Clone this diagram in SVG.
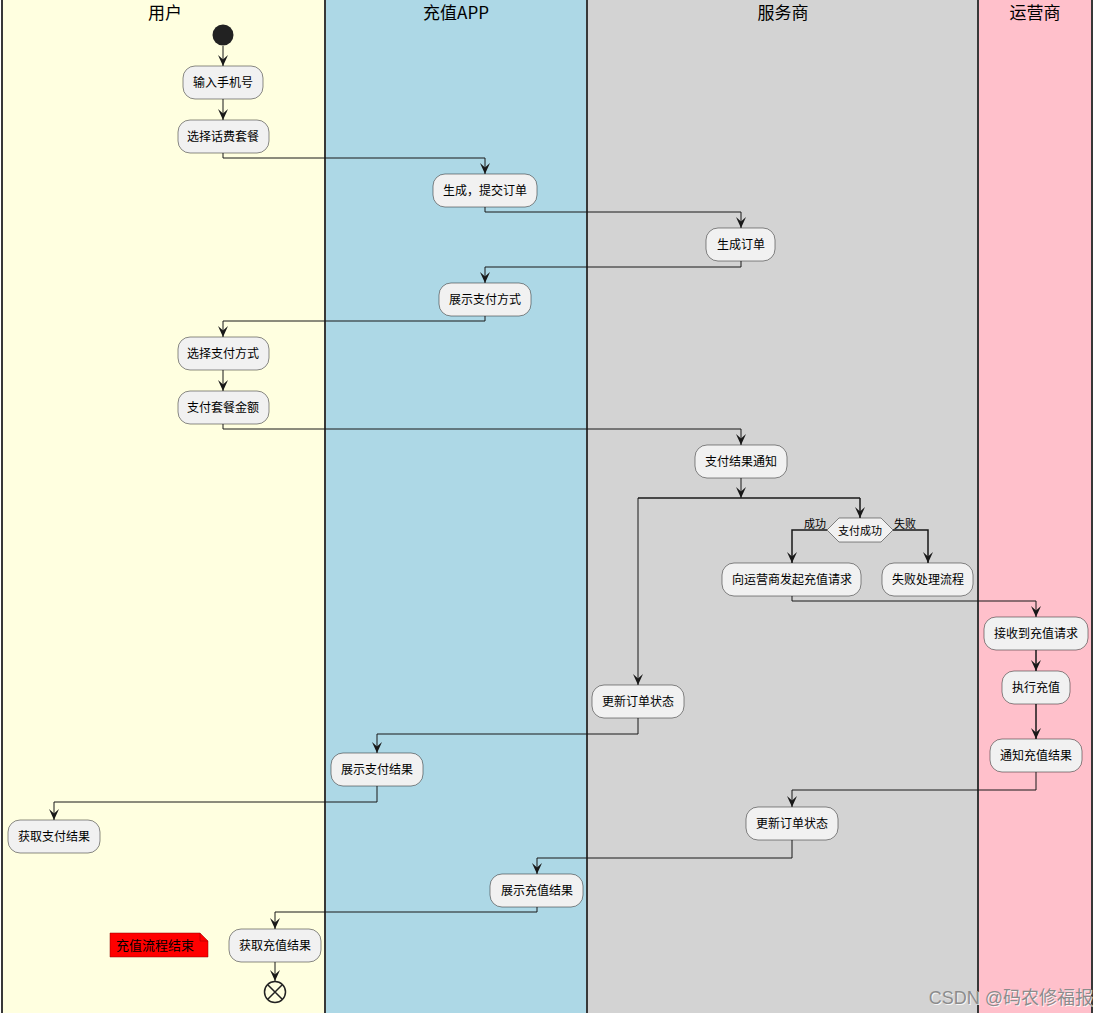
<svg xmlns="http://www.w3.org/2000/svg" width="1108" height="1017" viewBox="0 0 1108 1017">
<defs>
<style>
.lane{stroke:none}
.sep{stroke:#383838;stroke-width:2}
.hd{font-family:"Noto Sans CJK SC","Noto Sans",sans-serif;font-size:17px;fill:#000;text-anchor:middle}
.nd rect{fill:#F1F1F1;stroke:#181818;stroke-width:0.5}
.nd text{font-family:"Noto Sans CJK SC","Noto Sans",sans-serif;font-size:12px;fill:#000;text-anchor:middle}
.lbl{font-family:"Noto Sans CJK SC","Noto Sans",sans-serif;font-size:11px;fill:#000;text-anchor:middle}
.cn path,.cn line,.cn polyline{fill:none;stroke:#181818;stroke-width:1}
.wm{font-family:"Liberation Sans","Noto Sans CJK SC",sans-serif;font-size:18px}
</style>
<marker id="ah" markerWidth="11" markerHeight="10" refX="11" refY="5" orient="auto" markerUnits="userSpaceOnUse" viewBox="0 0 11 10">
<path d="M0,0 L11,5 L0,10 L4.5,5 Z" fill="#181818"/>
</marker>
</defs>
<rect width="1108" height="1017" fill="#FFFFFF"/>
<g id="lanes">
<rect class="lane" x="2" y="0" width="323" height="1013" fill="#FFFFE0"/>
<rect class="lane" x="325" y="0" width="262" height="1013" fill="#ADD8E6"/>
<rect class="lane" x="587" y="0" width="391" height="1013" fill="#D3D3D3"/>
<rect class="lane" x="978" y="0" width="114" height="1013" fill="#FFC0CB"/>
<line class="sep" x1="2" y1="0" x2="2" y2="1013"/>
<line class="sep" x1="325" y1="0" x2="325" y2="1013"/>
<line class="sep" x1="587" y1="0" x2="587" y2="1013"/>
<line class="sep" x1="978" y1="0" x2="978" y2="1013"/>
<line class="sep" x1="1092" y1="0" x2="1092" y2="1013"/>
<text class="hd" x="165" y="19">用户</text>
<text class="hd" x="456" y="19">充值APP</text>
<text class="hd" x="783" y="19">服务商</text>
<text class="hd" x="1035" y="19">运营商</text>
</g>
<g id="connectors" class="cn">
<line x1="223" y1="46" x2="223" y2="66" marker-end="url(#ah)"/>
<line x1="223" y1="99" x2="223" y2="120" marker-end="url(#ah)"/>
<polyline points="223,153 223,158 485,158 485,174" marker-end="url(#ah)"/>
<polyline points="485,207 485,212 741,212 741,228" marker-end="url(#ah)"/>
<polyline points="741,261 741,267 485,267 485,283" marker-end="url(#ah)"/>
<polyline points="485,316 485,321 223,321 223,337" marker-end="url(#ah)"/>
<line x1="223" y1="370" x2="223" y2="391" marker-end="url(#ah)"/>
<polyline points="223,424 223,429 741,429 741,445" marker-end="url(#ah)"/>
<line x1="741" y1="478" x2="741" y2="498" marker-end="url(#ah)"/>
<line x1="638" y1="498" x2="860" y2="498" style="stroke-width:1.5"/>
<polyline points="860,498 860,518" marker-end="url(#ah)" style="stroke-width:1.5"/>
<polyline points="638,498 638,685" marker-end="url(#ah)"/>
<polyline points="827,530 792,530 792,563" marker-end="url(#ah)" style="stroke-width:1.5"/>
<polyline points="893,530 928,530 928,563" marker-end="url(#ah)" style="stroke-width:1.5"/>
<polyline points="792,596 792,601 1036,601 1036,617" marker-end="url(#ah)"/>
<line x1="1036" y1="650" x2="1036" y2="671" marker-end="url(#ah)" style="stroke-width:1.5"/>
<line x1="1036" y1="704" x2="1036" y2="739" marker-end="url(#ah)" style="stroke-width:1.5"/>
<polyline points="638,718 638,734 377,734 377,753" marker-end="url(#ah)"/>
<polyline points="377,786 377,802 54,802 54,820" marker-end="url(#ah)"/>
<polyline points="1036,772 1036,790 792,790 792,807" marker-end="url(#ah)"/>
<polyline points="792,840 792,858 537,858 537,874" marker-end="url(#ah)"/>
<polyline points="537,907 537,912 275,912 275,929" marker-end="url(#ah)"/>
<line x1="275" y1="962" x2="275" y2="981" marker-end="url(#ah)"/>
</g>
<g id="start"><circle cx="223" cy="35" r="10.5" fill="#222222"/></g>
<g id="n1" class="nd"><rect x="183" y="66" width="80" height="33" rx="12"/><text x="223" y="87">输入手机号</text></g>
<g id="n2" class="nd"><rect x="178" y="120" width="91" height="33" rx="12"/><text x="223" y="141">选择话费套餐</text></g>
<g id="n3" class="nd"><rect x="433" y="174" width="104" height="33" rx="12"/><text x="485" y="195">生成，提交订单</text></g>
<g id="n4" class="nd"><rect x="706" y="228" width="69" height="33" rx="12"/><text x="741" y="249">生成订单</text></g>
<g id="n5" class="nd"><rect x="439" y="283" width="92" height="33" rx="12"/><text x="485" y="304">展示支付方式</text></g>
<g id="n6" class="nd"><rect x="178" y="337" width="91" height="33" rx="12"/><text x="223" y="358">选择支付方式</text></g>
<g id="n7" class="nd"><rect x="178" y="391" width="91" height="33" rx="12"/><text x="223" y="412">支付套餐金额</text></g>
<g id="n8" class="nd"><rect x="695" y="445" width="92" height="33" rx="12"/><text x="741" y="466">支付结果通知</text></g>
<g id="d1"><polygon points="827,530 839,518 881,518 893,530 881,542 839,542" fill="#F1F1F1" stroke="#181818" stroke-width="0.5"/><text class="lbl" x="860" y="534.5">支付成功</text><text class="lbl" x="815" y="528">成功</text><text class="lbl" x="905" y="528">失败</text></g>
<g id="n9" class="nd"><rect x="722" y="563" width="139" height="33" rx="12"/><text x="792" y="584">向运营商发起充值请求</text></g>
<g id="n10" class="nd"><rect x="882" y="563" width="91" height="33" rx="12"/><text x="928" y="584">失败处理流程</text></g>
<g id="n11" class="nd"><rect x="984" y="617" width="104" height="33" rx="12"/><text x="1036" y="638">接收到充值请求</text></g>
<g id="n12" class="nd"><rect x="1002" y="671" width="68" height="33" rx="12"/><text x="1036" y="692">执行充值</text></g>
<g id="n13" class="nd"><rect x="990" y="739" width="92" height="33" rx="12"/><text x="1036" y="760">通知充值结果</text></g>
<g id="n14" class="nd"><rect x="592" y="685" width="92" height="33" rx="12"/><text x="638" y="706">更新订单状态</text></g>
<g id="n15" class="nd"><rect x="331" y="753" width="92" height="33" rx="12"/><text x="377" y="774">展示支付结果</text></g>
<g id="n16" class="nd"><rect x="8" y="820" width="92" height="33" rx="12"/><text x="54" y="841">获取支付结果</text></g>
<g id="n17" class="nd"><rect x="746" y="807" width="92" height="33" rx="12"/><text x="792" y="828">更新订单状态</text></g>
<g id="n18" class="nd"><rect x="490" y="874" width="93" height="33" rx="12"/><text x="537" y="895">展示充值结果</text></g>
<g id="n19" class="nd"><rect x="229" y="929" width="92" height="33" rx="12"/><text x="275" y="950">获取充值结果</text></g>
<g id="end"><circle cx="275" cy="992" r="10.5" fill="none" stroke="#222222" stroke-width="1.5"/><path d="M267.5,984.5 L282.5,999.5 M282.5,984.5 L267.5,999.5" stroke="#222222" stroke-width="1.5"/></g>
<g id="note"><polygon points="110,933 200,933 208,941 208,957 110,957" fill="#FF0000" stroke="#8B0000" stroke-width="0.5"/><path d="M200,933 L200,941 L208,941" fill="none" stroke="#8B0000" stroke-width="0.5"/><text x="155" y="950" style="font-family:'Noto Sans CJK SC',sans-serif;font-size:13px;fill:#000;text-anchor:middle">充值流程结束</text></g>
<g id="watermark"><text class="wm" x="1093" y="1004" text-anchor="end" fill="#FFFFFF" opacity="0.8" transform="translate(1,1)">CSDN @码农修福报</text><text class="wm" x="1093" y="1004" text-anchor="end" fill="#8C8C8C">CSDN @码农修福报</text></g>
</svg>
